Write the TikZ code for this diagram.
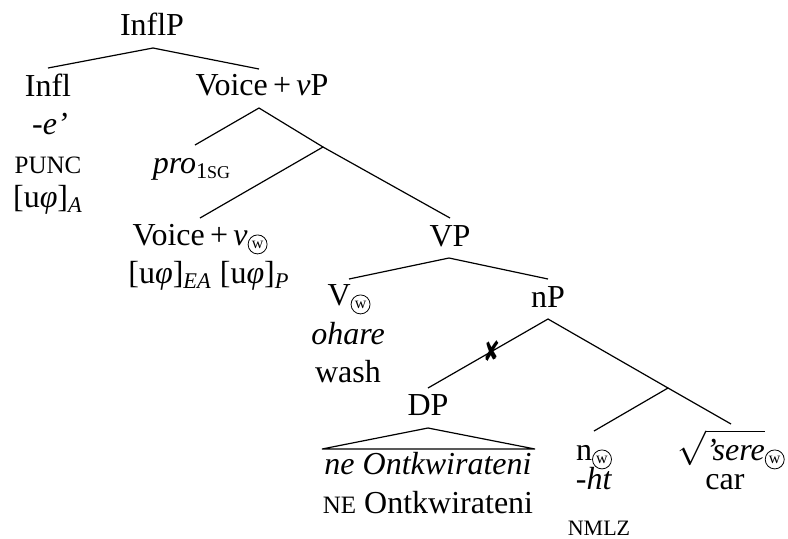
\documentclass[tikz,border=0pt]{standalone}
\usepackage{fontspec}
\usetikzlibrary{calc}
\setmainfont{Liberation Serif}
\newfontfamily\djv{DejaVu Sans}
\newcommand{\cw}{\tikz[baseline=0pt]\node[draw,circle,inner sep=0pt,minimum size=9.5pt,line width=0.4pt,font=\fontsize{8}{8}\selectfont] at (0.5pt,-1.5pt) {w};}
\newcommand{\fsc}[1]{{\fontsize{12.5}{14}\selectfont #1}}
\newcommand{\nsc}[1]{{\fontsize{11}{13}\selectfont #1}}
\newcommand{\ssc}[1]{{\fontsize{9}{10}\selectfont #1}}
\begin{document}
\begin{tikzpicture}[x=0.5pt,y=-0.5pt,
 lbl/.style={anchor=base,inner sep=0pt,font=\fontsize{16}{19}\selectfont},
 br/.style={line width=0.6pt}]
\useasboundingbox (0,0) rectangle (788,538);
% labels
\node[lbl] (InflP) at (152,35) {InflP};
\node[lbl] (Infl) at (48,96) {Infl};
\node[lbl] (Infl2) at (50,134) {\textit{-e’}};
\node[lbl] (Infl3) at (48,173) {\fsc{PUNC}};
\node[lbl] (Infl4) at (48,207) {[u\textit{φ}]\textsubscript{\textit{A}}};
\node[lbl] (VvP) at (262,95) {Voice\,+\,\textit{v}P};
\node[lbl] (pro) at (192,173) {\textit{pro}\textsubscript{1\ssc{SG}}};
\node[lbl] (Vv) at (200,245) {Voice\,+\,\textit{v}\cw};
\node[lbl] (Vv2) at (209,283) {[u\textit{φ}]\textsubscript{\textit{EA}} [u\textit{φ}]\textsubscript{\textit{P}}};
\node[lbl] (VP) at (450,246) {VP};
\node[lbl] (V) at (349,305) {V\cw};
\node[lbl] (V2) at (348,344) {\textit{ohare}};
\node[lbl] (V3) at (348,382) {wash};
\node[lbl] (nP) at (548,307) {nP};
\node[lbl] (DP) at (428,415) {DP};
\node[lbl] (DP2) at (428,474) {\textit{ne Ontkwirateni}};
\node[lbl] (DP3) at (428,513) {\fsc{NE} Ontkwirateni};
\node[lbl] (n) at (594,460) {n\cw};
\node[lbl] (n2) at (594,489) {\textit{-ht}};
\node[lbl] (n3) at (599,535) {\nsc{NMLZ}};
\node[lbl] (root) at (731,460) {$\sqrt{\mbox{\textit{’sere}}}$\cw};
\node[lbl] (root2) at (725,489) {car};
% attachment points
\coordinate (InflPb) at (153,48);
\coordinate (Inflt) at (48,68);
\coordinate (VvPt) at (259,69);
\coordinate (VvPb) at (259,108);
\coordinate (prot) at (195,145);
\coordinate (i1) at (323,147);
\coordinate (Vvt) at (200,218);
\coordinate (VPt) at (450,218);
\coordinate (VPb) at (449,258);
\coordinate (Vt) at (349,279);
\coordinate (nPt) at (548,279);
\coordinate (nPb) at (548,319);
\coordinate (DPt) at (428,388);
\coordinate (i2) at (668,388);
\coordinate (nt) at (594,431);
\coordinate (roott) at (731,424);
\coordinate (DPb) at (428,428);
\coordinate (DPl) at (322,449);
\coordinate (DPr) at (535,449);
% branches
\draw[br] (Inflt) -- (InflPb) -- (VvPt);
\draw[br] (prot) -- (VvPb) -- (i1);
\draw[br] (Vvt) -- (i1) -- (VPt);
\draw[br] (Vt) -- (VPb) -- (nPt);
\draw[br] (DPt) -- (nPb) -- (i2);
\draw[br] (nt) -- (i2) -- (roott);
\draw[br] (DPl) -- (DPb) -- (DPr) -- cycle;
\node[inner sep=0pt,font=\djv\fontsize{14}{14}\selectfont] (cross) at ($(DPt)!0.53!(nPb)$) {\scalebox{0.72}[1]{✘}};
\end{tikzpicture}
\end{document}
